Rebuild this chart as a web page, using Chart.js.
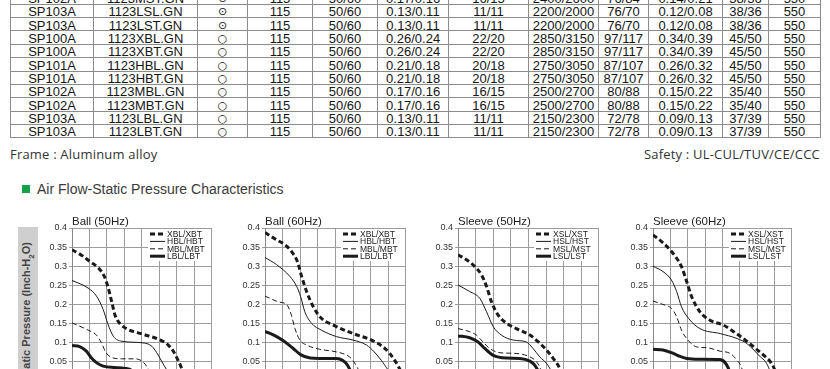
<!DOCTYPE html>
<html>
<head>
<meta charset="utf-8">
<script src="https://cdn.jsdelivr.net/npm/chart.js@4.4.0/dist/chart.umd.min.js"></script>
<style>
  html, body { margin: 0; padding: 0; background: #fff; }
  body { width: 830px; height: 369px; overflow: hidden; position: relative; font-family: Arial, "Liberation Sans", sans-serif; }
  .cell { position: absolute; box-sizing: border-box; border-left: 1px solid #8c8c8c; border-bottom: 1px solid #8c8c8c;
          text-align: center; font-size: 13px; color: #151515; white-space: nowrap; overflow: hidden; }
  .cell.last { border-right: 1px solid #8c8c8c; }
  .sym { font-family: "DejaVu Sans", sans-serif; font-size: 11px; position: relative; top: -1px; }
  .note { position: absolute; top: 145px; font-family: "Open Sans", sans-serif; font-size: 13px; line-height: 18px; color: #333; letter-spacing: 0.2px; }
  #heading { position: absolute; left: 37px; top: 181px; font-size: 14px; line-height: 16px; color: #3a3a3a; }
  #greenBox { position: absolute; left: 22px; top: 185px; width: 8px; height: 8px; background: #12a24a; }
  #yBox { position: absolute; left: 18px; top: 227px; width: 20px; height: 160px; background: #cfcfcf; }
  #yTitle { position: absolute; left: 28px; top: 242px; white-space: nowrap; font-weight: bold; font-size: 11px; color: #444;
            transform-origin: 0 0; transform: rotate(-90deg) translate(-100%, -50%); }
  #yTitle sub { font-size: 8px; }
  canvas { position: absolute; }
</style>
</head>
<body>
<div id="table"></div>
<div class="note" style="left:10px">Frame : Aluminum alloy</div>
<div class="note" style="right:10px">Safety : UL-CUL/TUV/CE/CCC</div>
<div id="greenBox"></div>
<div id="heading">Air Flow-Static Pressure Characteristics</div>
<div id="yBox"></div>
<div id="yTitle">Static Pressure (Inch-H<sub>2</sub>O)</div>
<canvas id="ball50" width="188" height="196"></canvas>
<canvas id="ball60" width="189" height="196"></canvas>
<canvas id="sleeve50" width="189" height="196"></canvas>
<canvas id="sleeve60" width="187" height="196"></canvas>
<script>
// Spec table rows (top one is cut off by the crop)
const modelNos  = ['SP102A', 'SP103A', 'SP103A', 'SP100A', 'SP100A', 'SP101A', 'SP101A', 'SP102A', 'SP102A', 'SP103A', 'SP103A'];
const partNos   = ['1123MST.GN', '1123LSL.GN', '1123LST.GN', '1123XBL.GN', '1123XBT.GN', '1123HBL.GN', '1123HBT.GN', '1123MBL.GN', '1123MBT.GN', '1123LBL.GN', '1123LBT.GN'];
const bearings  = ['⊙', '⊙', '⊙', '○', '○', '○', '○', '○', '○', '○', '○'];
const voltages  = ['115', '115', '115', '115', '115', '115', '115', '115', '115', '115', '115'];
const freqs     = ['50/60', '50/60', '50/60', '50/60', '50/60', '50/60', '50/60', '50/60', '50/60', '50/60', '50/60'];
const currents  = ['0.17/0.16', '0.13/0.11', '0.13/0.11', '0.26/0.24', '0.26/0.24', '0.21/0.18', '0.21/0.18', '0.17/0.16', '0.17/0.16', '0.13/0.11', '0.13/0.11'];
const powers    = ['16/15', '11/11', '11/11', '22/20', '22/20', '20/18', '20/18', '16/15', '16/15', '11/11', '11/11'];
const speeds    = ['2400/2600', '2200/2000', '2200/2000', '2850/3150', '2850/3150', '2750/3050', '2750/3050', '2500/2700', '2500/2700', '2150/2300', '2150/2300'];
const airflows  = ['76/84', '76/70', '76/70', '97/117', '97/117', '87/107', '87/107', '80/88', '80/88', '72/78', '72/78'];
const pressures = ['0.14/0.21', '0.12/0.08', '0.12/0.08', '0.34/0.39', '0.34/0.39', '0.26/0.32', '0.26/0.32', '0.15/0.22', '0.15/0.22', '0.09/0.13', '0.09/0.13'];
const noises    = ['38/36', '38/36', '38/36', '45/50', '45/50', '45/50', '45/50', '35/40', '35/40', '37/39', '37/39'];
const weights   = ['550', '550', '550', '550', '550', '550', '550', '550', '550', '550', '550'];

// Curves: [airflow, static pressure]
const ball50XBL = [[0,0.343],[2.7,0.329],[5,0.313],[7.5,0.296],[9.2,0.274],[10.3,0.245],[11.3,0.209],[12.3,0.172],[13.9,0.148],[16,0.135],[20,0.123],[25,0.108],[27.5,0.094],[29,0.077],[30.2,0.056],[31.2,0.036],[32,0.015],[32.5,0]];
const ball50HBL = [[0,0.263],[4.6,0.243],[7,0.222],[8.9,0.187],[10.3,0.148],[11.8,0.117],[14.2,0.104],[20,0.1],[22.8,0.091],[24.2,0.074],[25.6,0.052],[27,0.03],[28.5,0.01],[29,0]];
const ball50MBL = [[0,0.152],[4.6,0.133],[7,0.12],[8.4,0.1],[9.6,0.076],[11,0.063],[14.2,0.058],[18,0.058],[20,0.052],[21.3,0.039],[22.5,0.02],[23.5,0]];
const ball50LBL = [[0,0.093],[2.2,0.09],[4.1,0.078],[5.5,0.061],[7,0.048],[8.9,0.039],[12.3,0.035],[15,0.033],[17,0.028],[18.5,0.012],[19,0]];

const ball60XBL = [[0,0.388],[3.3,0.369],[5.7,0.356],[7.5,0.339],[9.2,0.312],[10.4,0.273],[11.8,0.234],[13.7,0.194],[16,0.164],[19.4,0.146],[25,0.124],[30.2,0.107],[33.5,0.089],[35.4,0.072],[36.8,0.054],[38,0.035],[39,0.015],[39.5,0]];
const ball60HBL = [[0,0.323],[3.3,0.304],[7.1,0.273],[9,0.247],[10.1,0.221],[11.3,0.181],[13.2,0.151],[16,0.133],[20.3,0.116],[25,0.107],[28.8,0.094],[31,0.076],[33,0.054],[34,0.041],[35.5,0.02],[36.5,0]];
const ball60MBL = [[0,0.222],[3.8,0.207],[6.2,0.199],[7.5,0.172],[8.5,0.137],[9.9,0.107],[11.8,0.094],[15.5,0.083],[20.3,0.076],[24,0.063],[25.2,0.05],[26.5,0.03],[27.5,0.012],[28,0]];
const ball60LBL = [[0,0.13],[3.3,0.116],[5.7,0.102],[8,0.085],[10.1,0.069],[12.8,0.06],[15.5,0.059],[20.3,0.059],[22,0.054],[23.5,0.04],[24.5,0.02],[25,0]];

const sleeve50XSL = [[0,0.33],[2.4,0.317],[4.8,0.299],[6.7,0.277],[8.1,0.247],[9.5,0.207],[11.4,0.172],[13.8,0.151],[17.5,0.133],[20.4,0.12],[22.8,0.102],[25.1,0.081],[27,0.059],[28.4,0.041],[29.5,0.02],[30.3,0]];
const sleeve50HSL = [[0,0.251],[3.3,0.234],[6.2,0.216],[8.1,0.181],[10,0.142],[12.3,0.12],[15.7,0.107],[19.4,0.102],[21.3,0.085],[23.2,0.063],[25.1,0.046],[26.5,0.025],[27.5,0]];
const sleeve50MSL = [[0,0.137],[3.3,0.129],[5.2,0.12],[7.1,0.102],[9,0.085],[11.9,0.074],[16.5,0.072],[20.4,0.063],[22.3,0.05],[23.5,0.03],[24.5,0]];
const sleeve50LSL = [[0,0.118],[3.3,0.113],[5.7,0.102],[7.6,0.085],[10,0.067],[13.8,0.06],[17.5,0.059],[20.4,0.052],[21.8,0.041],[23,0.02],[23.5,0]];

const sleeve60XSL = [[0,0.382],[2.4,0.365],[4.9,0.343],[6.8,0.321],[8.2,0.299],[9.7,0.26],[11.1,0.221],[13.5,0.181],[16.4,0.159],[20.3,0.146],[23.2,0.129],[26,0.111],[29,0.089],[31.9,0.067],[33.8,0.05],[35,0.03],[36,0]];
const sleeve60HSL = [[0,0.3],[2.9,0.286],[5.3,0.264],[6.8,0.234],[8.2,0.194],[10.2,0.164],[13.5,0.137],[19.3,0.124],[24.2,0.111],[27,0.098],[29,0.081],[30.9,0.063],[32.4,0.05],[33.5,0.03],[34.5,0]];
const sleeve60MSL = [[0,0.209],[2.9,0.2],[5.3,0.19],[6.8,0.168],[8.2,0.133],[9.7,0.111],[12.6,0.089],[15.5,0.087],[19.3,0.078],[22.2,0.072],[24.2,0.054],[25.5,0.035],[26.5,0]];
const sleeve60LSL = [[0,0.083],[2.9,0.081],[5.3,0.074],[7.3,0.066],[9.7,0.059],[13.5,0.057],[19.3,0.056],[21,0.045],[22,0.025],[22.5,0]];

const ballLabels = ['XBL/XBT', 'HBL/HBT', 'MBL/MBT', 'LBL/LBT'];
const sleeveLabels = ['XSL/XST', 'HSL/HST', 'MSL/MST', 'LSL/LST'];

// ---- table ----
const colEdges = [10, 93, 197, 247, 312, 377, 448, 528, 598, 648, 722, 768, 820];
const rowH = 13.35;
const firstRowTop = 4.3 - rowH;
const columns = [modelNos, partNos, bearings, voltages, freqs, currents, powers, speeds, airflows, pressures, noises, weights];
const tableEl = document.getElementById('table');
for (let r = 0; r < modelNos.length; r++) {
    for (let c = 0; c < columns.length; c++) {
        const d = document.createElement('div');
        d.className = 'cell' + (c === columns.length - 1 ? ' last' : '');
        d.style.left = colEdges[c] + 'px';
        d.style.width = (colEdges[c + 1] - colEdges[c] + (c === columns.length - 1 ? 1 : 0)) + 'px';
        d.style.top = (firstRowTop + r * rowH) + 'px';
        d.style.height = (rowH + 0.5) + 'px';
        d.style.lineHeight = rowH + 'px';
        d.style.paddingTop = '1px';
        if (c === 2) {
            d.innerHTML = '<span class="sym">' + columns[c][r] + '</span>';
        } else {
            d.textContent = columns[c][r];
        }
        tableEl.appendChild(d);
    }
}

// ---- charts ----
const lineStyles = [
    { width: 3, dash: [5, 3] },
    { width: 1, dash: [] },
    { width: 1, dash: [5, 3] },
    { width: 3, dash: [] }
];

// Title and in-plot legend
const insideLegend = {
    id: 'insideLegend',
    beforeDatasetsDraw(chart) {
        const a = chart.chartArea;
        const x0 = a.left + 78;
        const ctx = chart.ctx;
        ctx.save();
        ctx.fillStyle = '#fff';
        ctx.fillRect(x0 - 2, a.top + 1, a.right - x0 + 1, 32);
        ctx.restore();
    },
    afterDatasetsDraw(chart, args, opts) {
        const a = chart.chartArea;
        const ctx = chart.ctx;
        const x0 = a.left + 78;
        ctx.save();
        chart.data.datasets.forEach((ds, i) => {
            const y = a.top + 6 + i * 7.4;
            ctx.beginPath();
            ctx.setLineDash(ds.borderDash);
            ctx.lineWidth = ds.borderWidth;
            ctx.strokeStyle = ds.borderColor;
            ctx.moveTo(x0, y);
            ctx.lineTo(x0 + 15, y);
            ctx.stroke();
            ctx.setLineDash([]);
            ctx.fillStyle = '#222';
            ctx.font = '8.5px Arial';
            ctx.textBaseline = 'middle';
            ctx.fillText(ds.label, x0 + 17, y + 0.5);
        });
        ctx.fillStyle = '#222';
        ctx.font = '11.5px Arial';
        ctx.textBaseline = 'alphabetic';
        ctx.fillText(opts.title, a.left, a.top - 3);
        ctx.restore();
    }
};

function drawFanChart(id, plotLeft, title, labels, curves) {
    const canvas = document.getElementById(id);
    canvas.style.left = (plotLeft - 40) + 'px';
    canvas.style.top = '205px';
    const datasets = curves.map((pts, i) => ({
        label: labels[i],
        data: pts.map(p => ({ x: p[0], y: p[1] })),
        borderColor: '#1a1a1a',
        borderWidth: lineStyles[i].width,
        borderDash: lineStyles[i].dash,
        pointRadius: 0,
        cubicInterpolationMode: 'monotone',
        fill: false
    }));
    return new Chart(canvas.getContext('2d'), {
        type: 'line',
        data: { datasets: datasets },
        options: {
            responsive: false,
            animation: false,
            devicePixelRatio: 1,
            layout: { padding: { top: 23, right: 8, left: 0, bottom: 0 } },
            plugins: {
                legend: { display: false },
                tooltip: { enabled: false },
                insideLegend: { title: title }
            },
            scales: {
                x: {
                    type: 'linear', min: 0, max: 40,
                    ticks: { stepSize: 5, font: { size: 9, family: 'Arial' }, color: '#333' },
                    grid: { color: '#9c9c9c', tickLength: 3 },
                    border: { color: '#888' },
                    afterFit: s => { s.height = 20; }
                },
                y: {
                    min: 0, max: 0.4,
                    ticks: {
                        stepSize: 0.05, padding: 2,
                        font: { size: 9, family: 'Arial' }, color: '#333',
                        callback: v => String(+v.toFixed(2))
                    },
                    grid: { color: '#9c9c9c', tickLength: 3 },
                    border: { color: '#888' },
                    afterFit: s => { s.width = 40; }
                }
            }
        },
        plugins: [insideLegend]
    });
}

drawFanChart('ball50', 72, 'Ball (50Hz)', ballLabels, [ball50XBL, ball50HBL, ball50MBL, ball50LBL]);
drawFanChart('ball60', 265, 'Ball (60Hz)', ballLabels, [ball60XBL, ball60HBL, ball60MBL, ball60LBL]);
drawFanChart('sleeve50', 458, 'Sleeve (50Hz)', sleeveLabels, [sleeve50XSL, sleeve50HSL, sleeve50MSL, sleeve50LSL]);
drawFanChart('sleeve60', 653, 'Sleeve (60Hz)', sleeveLabels, [sleeve60XSL, sleeve60HSL, sleeve60MSL, sleeve60LSL]);
</script>
</body>
</html>
